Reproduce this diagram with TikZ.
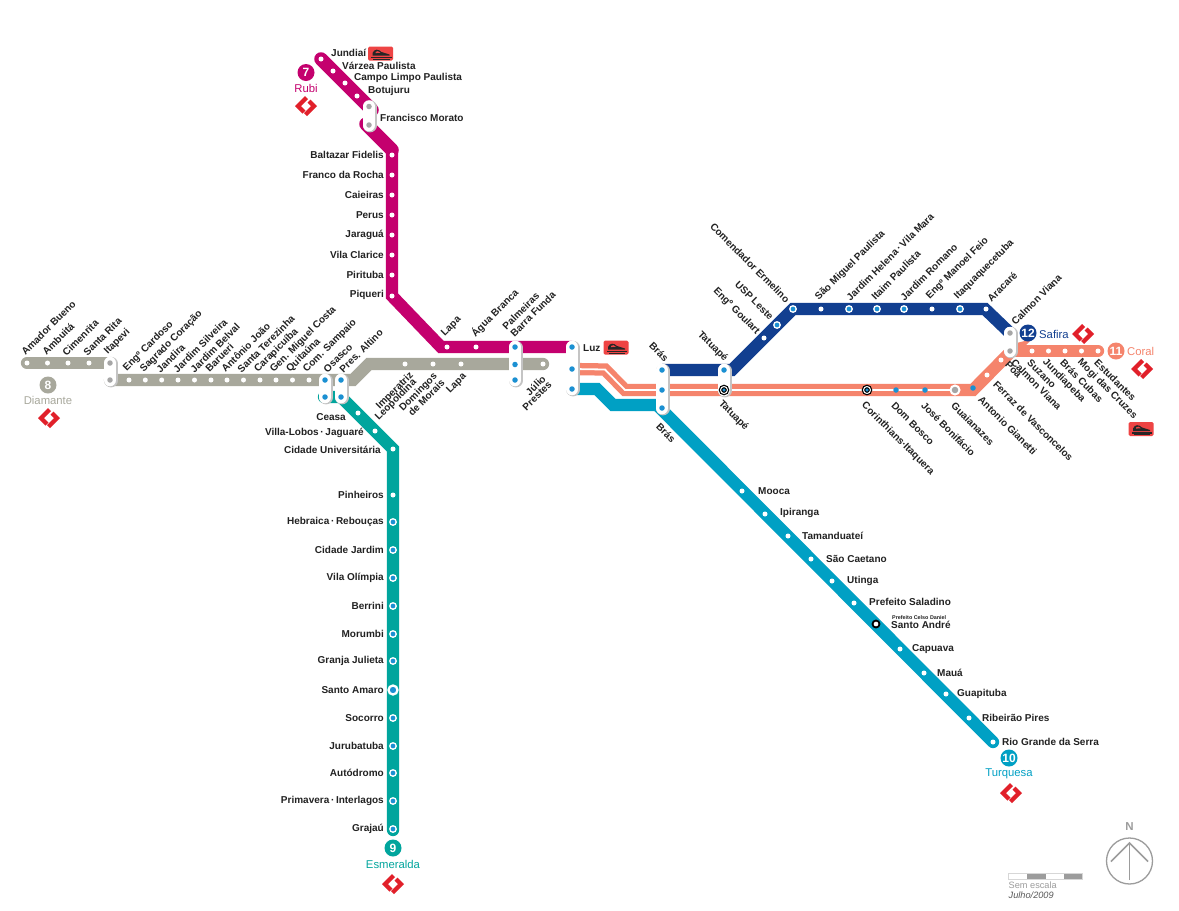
\documentclass[tikz,border=0pt]{standalone}
\usepackage{fontspec}
\setmainfont{Liberation Sans}
\definecolor{rubi}{HTML}{C4006E}
\definecolor{diam}{HTML}{A8A89C}
\definecolor{esme}{HTML}{00A59D}
\definecolor{turq}{HTML}{00A0C4}
\definecolor{cora}{HTML}{F5846C}
\definecolor{safi}{HTML}{123F90}
\definecolor{dotb}{HTML}{1B90D2}
\definecolor{cred}{HTML}{E1202A}
\definecolor{tred}{HTML}{EE4444}
\definecolor{ink}{HTML}{222222}
\definecolor{gr}{HTML}{9C9C9C}
\pgfdeclarelayer{paper}\pgfdeclarelayer{lines}\pgfdeclarelayer{pills}
\pgfsetlayers{paper,lines,pills,main}
\tikzset{
 x=1pt,y=-1pt,
 metro/.style={line width=12.3pt,line cap=round,line join=miter},
 stn/.style={circle,fill=white,inner sep=0,minimum size=5pt},
 xfr/.style={circle,fill=dotb,draw=white,line width=1.3pt,inner sep=0,minimum size=6.5pt},
 bdot/.style={circle,fill=dotb,inner sep=0,minimum size=5.5pt},
 gdot/.style={circle,fill=gr!90,inner sep=0,minimum size=5.5pt},
 bigx/.style={circle,fill=dotb,draw=white,line width=2.3pt,inner sep=0,minimum size=9pt},
 blk/.style={circle,fill=dotb,draw=black,line width=1.2pt,double=white,double distance=1pt,inner sep=0,minimum size=7pt},
 sa/.style={circle,fill=white,draw=black,line width=1.8pt,inner sep=0,minimum size=7pt},
 guai/.style={circle,fill=gr!90,draw=white,line width=2pt,inner sep=0,minimum size=9pt},
 pillo/.style={line width=13.5pt,line cap=round,color=gr!60,transform canvas={xshift=1pt,yshift=-0.6pt}},
 pilli/.style={line width=12.5pt,line cap=round,color=white},
 lbl/.style={inner sep=0,text=ink,font=\fontsize{10}{11}\selectfont\bfseries},
 lE/.style={lbl,anchor=west},
 lW/.style={lbl,anchor=east},
 lU/.style={lbl,rotate=45,anchor=west},
 lUe/.style={lbl,rotate=45,anchor=east},
 lD/.style={lbl,rotate=-45,anchor=west},
 lDe/.style={lbl,rotate=-45,anchor=east},
 badge/.style={circle,inner sep=0,minimum size=17pt,text=white,font=\fontsize{12}{12}\selectfont\bfseries},
 lname/.style={inner sep=0,font=\fontsize{11.3}{12}\selectfont},
 cptm/.pic={
  \fill[cred] (-1,-10)--(-11,0)--(-3.5,7.5)--(-0.5,4.5)--(-5,0)--(2,-7)--cycle;
  \fill[cred] (1.5,-3.5)--(4.5,-6.5)--(11,0)--(1,10)--(-2,7)--(5,0)--cycle;
 },
 trainicon/.pic={
  \fill[tred,rounded corners=1.5pt] (-12.5,-7) rectangle (12.5,7);
  \fill[black!85] (-8,-0.5) .. controls (-6,-5) and (-2,-4.5) .. (1,-1.5) -- (9,1) -- (9,2) -- (-8,2) -- cycle;
  \fill[tred] (-5,-1.5) .. controls (-3.5,-3) and (-2,-2.5) .. (0,-0.8) -- (-5,-0.4) -- cycle;
  \fill[black!85] (-9.5,3) rectangle (11,4.6);
  \fill[black!85] (-7.5,5.2) rectangle (9,6);
 },
}
\begin{document}
\begin{tikzpicture}
\begin{pgfonlayer}{paper}
\path[use as bounding box,fill=white] (0,0) rectangle (1179,911);
\end{pgfonlayer}

% ---------- stations
\foreach \n/\x/\y in {
 a1/321/59,a2/333/71,a3/345/83,a4/357/96,
 a5/392/155,a6/392/175,a7/392/195,a8/392/215,a9/392/235,a10/392/255,a11/392/275,a12/392/296,
 a13/447/347,a14/476/347,
 b1/27/363,b2/47.5/363,b3/68/363,b4/89/363,
 b5/129/380,b6/145.3/380,b7/161.7/380,b8/178/380,b9/194.5/380,b10/211/380,b11/227/380,b12/243.5/380,b13/260/380,b14/276/380,b15/292.5/380,b16/309/380,
 b17/405/364,b18/433/364,b19/461/364,b20/543/364,
 c1/358/413,c2/375/431,c3/393/449,c4/393/495,
 d1/742/491,d2/765/514,d3/788/536,d4/811/559,d5/832/581,d6/854/603,d7/900/649,d8/924/673,d9/946/694,d10/969/718,d11/993/742,
 e1/987/375,e2/1001/360,e3/1032/351,e4/1048.5/351,e5/1065/351,e6/1081.5/351,e7/1098/351,
 f1/764/338,f2/821/309,f3/932/309,f4/986/309}
 {\node[stn] (\n) at (\x,\y) {};}
\foreach \n/\x/\y in {
 c5/393/522,c6/393/550,c7/393/578,c8/393/606,c9/393/634,c10/393/661,c12/393/718,c13/393/746,c14/393/773,c15/393/801,c16/393/829,
 f5/777/325,f6/793/309,f7/849/309,f8/877/309,f9/904/309,f10/960/309}
 {\node[xfr] (\n) at (\x,\y) {};}
\node[bigx] (c11) at (393,690) {};
\node[sa] (d0) at (876,624) {};
\foreach \n/\x/\y in {
 pa/515/347,pb/515/364.5,pc/515/380,
 la/572/347,lb/572/369,lc/572/389,
 ba/662/370,bb/662/390,bc/662/408,
 ta/724/370,
 oa/325/380,ob/325/397,oc/341/380,od/341/397,
 g1/896/390,g2/925/390,g3/973/388}
 {\node[bdot] (\n) at (\x,\y) {};}
\node[blk] (tb) at (724,390) {};
\node[blk] (g0) at (867,390) {};
\node[guai] (gz) at (955,390) {};
\foreach \n/\x/\y in {ma/369/106.5,mb/369/125,ia/110/363,ib/110/380,ca/1010/333,cb/1010/351}
 {\node[gdot] (\n) at (\x,\y) {};}

% waypoints
\coordinate (w7a) at (372,110);
\coordinate (w7b) at (366,124);
\coordinate (w7c) at (392,150);
\coordinate (w7d) at (392,296);
\coordinate (w7e) at (441,347);
\coordinate (w8a) at (353,380);
\coordinate (w8b) at (369,364);
\coordinate (w9a) at (324,397);
\coordinate (w9b) at (393,449);
\coordinate (w9c) at (393,830);
\coordinate (w0a) at (597,389);
\coordinate (w0b) at (613,405);
\coordinate (w0c) at (657,405);
\coordinate (w1a) at (605,369.5);
\coordinate (w1b) at (625,390);
\coordinate (w1c) at (973,390);
\coordinate (w1d) at (1012,350.5);
\coordinate (w2a) at (732,370);
\coordinate (w2b) at (793,309);
\coordinate (w2c) at (985,309);

\begin{pgfonlayer}{lines}
 \draw[metro,rubi,line width=13.5pt] (a1.center)--(w7a);
 \draw[metro,rubi,line width=13.5pt,line cap=round] (w7b)--(w7c);
 \draw[metro,rubi,line cap=butt] (w7c)--(w7d)--(w7e)--(la.center);
 \fill[rubi] (w7e) ++(-0.5,-6.1) -- ++(6,0) -- ++(0,12.2) -- ++(-6,0) -- cycle;
 \draw[metro,rubi] (la.center)--(w7e);
 \draw[metro,diam] (b1.center)--(ia.center);
 \draw[metro,diam] (ib.center)--(w8a)--(w8b)--(b20.center);
 \draw[metro,esme] (w9a)--(od.center)--(w9b)--(w9c);
 \draw[metro,turq,line cap=butt] (lc.center)--(w0a)--(w0b)--(w0c);
 \draw[metro,turq] (w0c)--(d11.center);
 \draw[metro,cora,line cap=butt] (lb.center)--(w1a)--(w1b)--(w1c)--(w1d)--(cb.center);
 \draw[metro,cora] (cb.center)--(e7.center);
 \draw[white,line width=1.8pt] (lb.center)--(w1a)--(w1b)--(gz.center);
 \draw[metro,safi,line cap=butt] (ba.center)--(w2a)--(w2b)--(w2c)--(ca.center);
\end{pgfonlayer}
\begin{pgfonlayer}{pills}
 \foreach \p/\q in {ma/mb,ia/ib,oa/ob,oc/od,pa/pc,la/lc,ba/bc,ta/tb,ca/cb}{
  \draw[pillo] (\p.center)--(\q.center);
  \draw[pilli] (\p.center)--(\q.center);
 }
\end{pgfonlayer}

% ---------- labels
\foreach \n/\x/\y/\t in {
 a1/331/53/{Jundiaí},a2/342/66/{Várzea Paulista},a3/354/78/{Campo Limpo Paulista},a4/368/91/{Botujuru},mo/380/118/{Francisco Morato},
 lu/583/348/{Luz},
 d1/758/491/{Mooca},d2/780/513/{Ipiranga},d3/802/536/{Tamanduateí},d4/826/559/{São Caetano},d5/847/581/{Utinga},d6/869/602/{Prefeito Saladino},d0/891/625/{Santo André},d7/912/649/{Capuava},d8/937/673/{Mauá},d9/957/694/{Guapituba},d10/982/718/{Ribeirão Pires},d11/1002/742/{Rio Grande da Serra}}
 {\node[lE] (t\n) at (\x,\y) {\t};}
\node[lE,font=\fontsize{5.4}{6}\selectfont\bfseries] (td0b) at (892,617.5) {Prefeito Celso Daniel};
\foreach \n/\y/\t in {
 a5/155/{Baltazar Fidelis},a6/175/{Franco da Rocha},a7/195/{Caieiras},a8/215/{Perus},a9/235/{Jaraguá},a10/255/{Vila Clarice},a11/275/{Pirituba},a12/295/{Piqueri},
 c4/495/{Pinheiros},c5/522/{Hebraica\,·\,Rebouças},c6/550/{Cidade Jardim},c7/578/{Vila Olímpia},c8/606/{Berrini},c9/634/{Morumbi},c10/661/{Granja Julieta},c11/690/{Santo Amaro},c12/718/{Socorro},c13/746/{Jurubatuba},c14/773/{Autódromo},c15/801/{Primavera\,·\,Interlagos},c16/829/{Grajaú}}
 {\node[lW] (t\n) at (384,\y) {\t};}
\node[lW] (tc1) at (346,417) {Ceasa};
\node[lW] (tc2) at (364,433) {Villa-Lobos\,·\,Jaguaré};
\node[lW] (tc3) at (381,450) {Cidade Universitária};
\foreach \n/\x/\y/\t in {
 b1/23/353/{Amador Bueno},b2/44/353/{Ambuitá},b3/64/354/{Cimenrita},b4/85/354/{Santa Rita},ia/106/353/{Itapevi},
 b5/125/370/{Engº Cardoso},b6/142/371/{Sagrado Coração},b7/158/371/{Jandira},b8/175/371/{Jardim Silveira},b9/192/371/{Jardim Belval},b10/207/370/{Barueri},b11/223/370/{Antônio João},b12/239/371/{Santa Terezinha},b13/256/371/{Carapicuíba},b14/272/371/{Gen. Miguel Costa},b15/288/371/{Quitaúna},b16/305/371/{Com. Sampaio},oa/325/371/{Osasco},oc/341/371/{Pres. Altino},
 a13/443/335/{Lapa},a14/473/335/{Água Branca},pa/504/328/{Palmeiras},pb/512/335/{Barra Funda},
 f2/817/299/{São Miguel Paulista},f7/848/299/{Jardim Helena\,·\,Vila Mara},f8/873/298/{Itaim Paulista},f9/902/299/{Jardim Romano},f3/928/298/{Engº Manoel Feio},f10/956/298/{Itaquaquecetuba},f4/989/300/{Aracaré},ca/1013/323/{Calmon Viana}}
 {\node[lU] (u\n) at (\x,\y) {\t};}
\foreach \n/\x/\y/\t in {
 b17/412/374/{Imperatriz},b17b/415/381/{Leopoldina},b18/436/375/{Domingos},b18b/443/381/{de Morais},b19/465/375/{Lapa},b20/544/377/{Júlio},b20b/550/383/{Prestes}}
 {\node[lUe] (v\n) at (\x,\y) {\t};}
\foreach \n/\x/\y/\t in {
 f6/788/301/{Comendador Ermelino},f5/772/318/{USP Leste},f1/758/333/{Engº Goulart},ta/726/360/{Tatuapé},ba/667/360/{Brás}}
 {\node[lDe] (x\n) at (\x,\y) {\t};}
\foreach \n/\x/\y/\t in {
 tb/720/402/{Tatuapé},bc/658/425/{Brás},g0/863/404/{Corinthians·Itaquera},g1/893/404/{Dom Bosco},g2/923/404/{José Bonifácio},gz/953/404/{Guaianazes},g3/980/398/{Antonio Gianetti},e1/995/383/{Ferraz de Vasconcelos},e2/1007/363/{Poá},cb/1013/361/{Calmon Viana},e3/1029/361/{Suzano},e4/1044/361/{Jundiapeba},e5/1062/361/{Brás Cubas},e6/1079/361/{Mogi das Cruzes},e7/1096/361/{Estudantes}}
 {\node[lD] (y\n) at (\x,\y) {\t};}

% ---------- line badges
\node[badge,fill=rubi] (n7) at (306,72.5) {7};
\node[lname,text=rubi] (m7) at (306,88) {Rubi};
\pic at (306,106) {cptm};
\node[badge,fill=diam] (n8) at (48,385) {8};
\node[lname,text=diam] (m8) at (48,400) {Diamante};
\pic at (49,418) {cptm};
\node[badge,fill=esme] (n9) at (393,848) {9};
\node[lname,text=esme] (m9) at (393,864) {Esmeralda};
\pic at (393,884) {cptm};
\node[badge,fill=turq] (n10) at (1009,758) {10};
\node[lname,text=turq] (m10) at (1009,774) {Turquesa};
\pic at (1011,793) {cptm};
\node[badge,fill=cora] (n11) at (1116,351) {11};
\node[lname,text=cora,anchor=west] (m11) at (1127,351) {Coral};
\pic at (1142,369) {cptm};
\node[badge,fill=safi] (n12) at (1028,333) {12};
\node[lname,text=safi,anchor=west] (m12) at (1039,334) {Safira};
\pic at (1083,334) {cptm};

% ---------- train icons
\pic at (380.5,53.5) {trainicon};
\pic at (616,347.5) {trainicon};
\pic at (1141,429) {trainicon};

% ---------- north arrow
\node[circle,draw=gr,line width=1.3pt,inner sep=0,minimum size=46pt] (cmp) at (1129.5,861) {};
\node[inner sep=0,text=gr,font=\fontsize{11.5}{12}\selectfont\bfseries] (nn) at (1129.5,827) {N};
\coordinate (cmt) at (1129.5,843);
\coordinate (cmb) at (1129.5,880);
\draw[gr,line width=1.5pt] (cmb)--(cmt);
\draw[gr,line width=1.5pt,line join=miter] (1111,861.5)--(cmt)--(1148,861.5);

% ---------- scale
\fill[gr!40] (1008,872.5) rectangle (1082.5,880);
\fill[white] (1009,873.5) rectangle (1027,879);
\fill[gr] (1027,873.5) rectangle (1046,879);
\fill[white] (1046,873.5) rectangle (1064,879);
\fill[gr] (1064,873.5) rectangle (1082,879);
\node[inner sep=0,anchor=west,text=gr,font=\fontsize{9.2}{10}\selectfont] (sc) at (1008.5,885.5) {Sem escala};
\node[inner sep=0,anchor=west,text=black!65,font=\fontsize{9.2}{10}\selectfont\itshape] (dt) at (1008.5,895.5) {Julho/2009};
\end{tikzpicture}
\end{document}
